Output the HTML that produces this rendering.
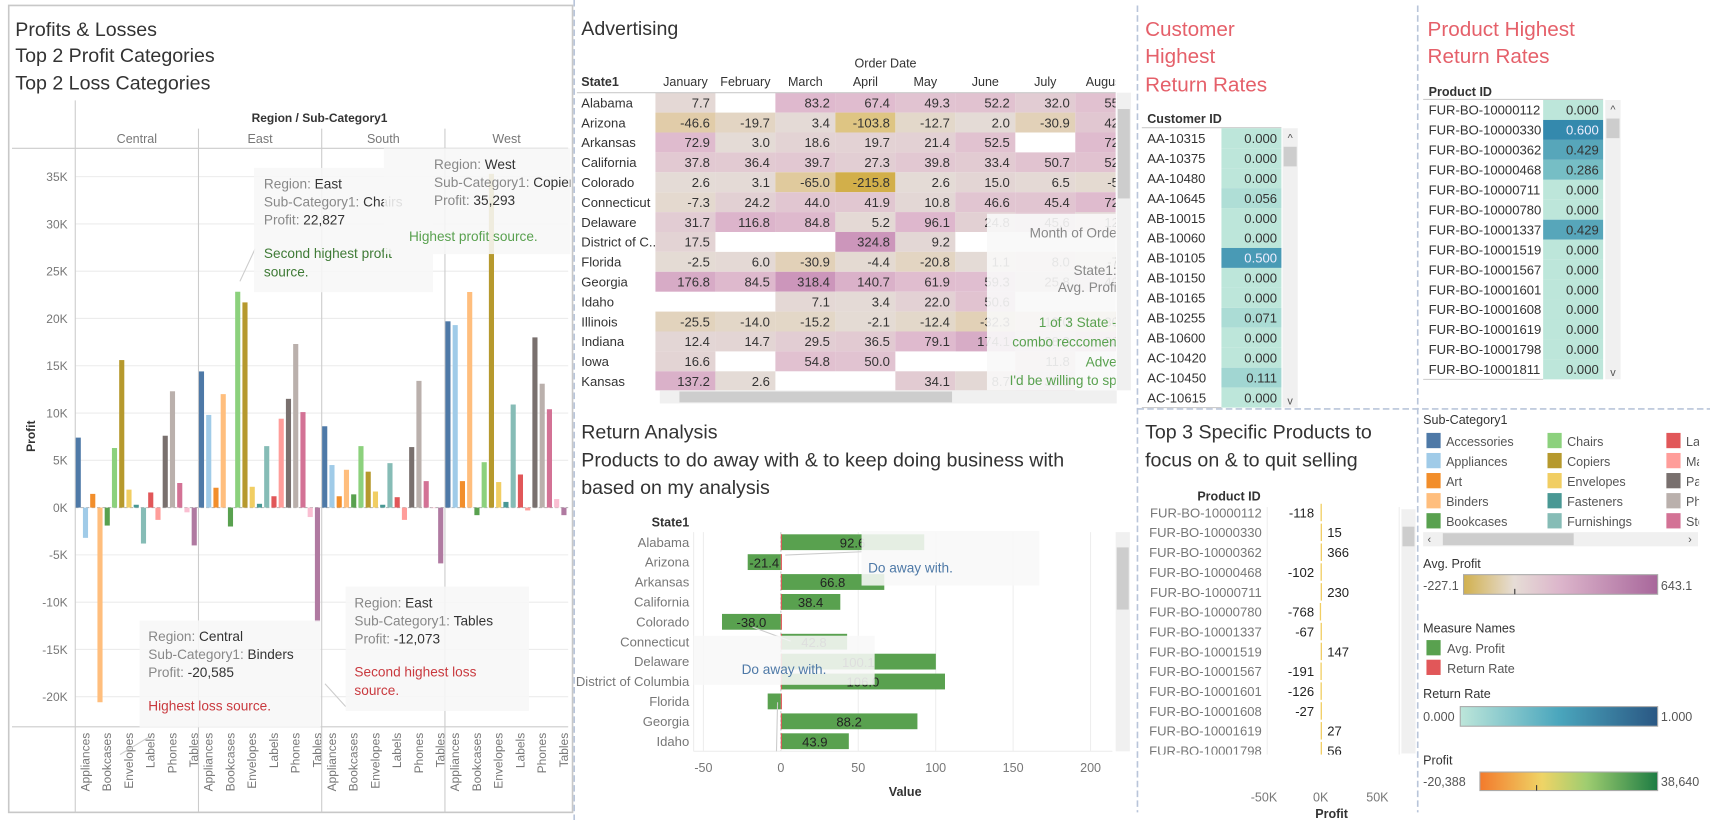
<!DOCTYPE html>
<html><head><meta charset="utf-8">
<style>
html,body{margin:0;padding:0;background:#fff;overflow:hidden;}
svg{display:block;font-family:"Liberation Sans",sans-serif;}
</style></head>
<body>
<svg id="dash" xmlns="http://www.w3.org/2000/svg" width="1710" height="820" viewBox="0 0 1568 752" preserveAspectRatio="none">
<defs>
 <clipPath id="heatClip"><rect x="527" y="40" width="496" height="318"/></clipPath>
 <clipPath id="legClip"><rect x="1300" y="380" width="258" height="120"/></clipPath>
 <clipPath id="leftClip"><rect x="9" y="5" width="514" height="740"/></clipPath>
 <linearGradient id="gAvg" x1="0" x2="1"><stop offset="0" stop-color="#d1b04d"/><stop offset="0.26" stop-color="#e6ddd6"/><stop offset="0.5" stop-color="#dcb5cb"/><stop offset="1" stop-color="#a8679b"/></linearGradient>
 <linearGradient id="gRet" x1="0" x2="1"><stop offset="0" stop-color="#bde6da"/><stop offset="0.5" stop-color="#4aa6bd"/><stop offset="1" stop-color="#2a5783"/></linearGradient>
 <linearGradient id="gProf" x1="0" x2="1"><stop offset="0" stop-color="#f37a2c"/><stop offset="0.35" stop-color="#efd466"/><stop offset="0.6" stop-color="#9fcd70"/><stop offset="1" stop-color="#1d7c43"/></linearGradient>
</defs>

<rect x="8" y="5" width="517" height="740" fill="none" stroke="#c8c8c8" stroke-width="1.5"/>
<line x1="526.5" y1="0" x2="526.5" y2="752" stroke="#b9c5da" stroke-width="1.5" stroke-dasharray="6,3"/>
<line x1="1043" y1="5" x2="1043" y2="745" stroke="#b9c5da" stroke-width="1.5" stroke-dasharray="6,3"/>
<line x1="1300" y1="5" x2="1300" y2="745" stroke="#b9c5da" stroke-width="1.5" stroke-dasharray="6,3"/>
<line x1="1043" y1="375" x2="1568" y2="375" stroke="#b9c5da" stroke-width="1.5" stroke-dasharray="6,3"/>

<g font-size="18" fill="#333">
 <text x="14" y="33">Profits &amp; Losses</text>
 <text x="14" y="57">Top 2 Profit Categories</text>
 <text x="14" y="82">Top 2 Loss Categories</text>
</g>
<g id="barChart" clip-path="url(#leftClip)"></g>

<text x="533" y="32" font-size="18" fill="#333">Advertising</text>
<g id="heat"></g>

<g font-size="18" fill="#333">
 <text x="533" y="402">Return Analysis</text>
 <text x="533" y="428">Products to do away with &amp; to keep doing business with</text>
 <text x="533" y="453">based on my analysis</text>
</g>
<g id="ra"></g>

<g font-size="19" fill="#e5606a">
 <text x="1050" y="33">Customer</text>
 <text x="1050" y="58">Highest</text>
 <text x="1050" y="84">Return Rates</text>
</g>
<g id="cust"></g>

<g font-size="19" fill="#e5606a">
 <text x="1309" y="33">Product Highest</text>
 <text x="1309" y="58">Return Rates</text>
</g>
<g id="prod"></g>

<g font-size="18" fill="#333">
 <text x="1050" y="402">Top 3 Specific Products to</text>
 <text x="1050" y="428">focus on &amp; to quit selling</text>
</g>
<g id="top3"></g>

<g id="legend">
 <text x="1305" y="389" font-size="11.5" fill="#333">Sub-Category1</text>
 <g id="subLeg" clip-path="url(#legClip)"></g>
 <rect x="1305" y="488" width="252" height="13" fill="#f0f0f0"/>
 <rect x="1323" y="489" width="120" height="11" fill="#cdcdcd"/>
 <text x="1309" y="498" font-size="10" fill="#555">‹</text>
 <text x="1548" y="498" font-size="10" fill="#555">›</text>

 <text x="1305" y="521" font-size="11.5" fill="#333">Avg. Profit</text>
 <rect x="1342" y="527" width="178" height="18" fill="url(#gAvg)" stroke="#aaa"/>
 <line x1="1389" y1="540" x2="1389" y2="545" stroke="#333"/>
 <text x="1305" y="541" font-size="11.5" fill="#555">-227.1</text>
 <text x="1523" y="541" font-size="11.5" fill="#555">643.1</text>

 <text x="1305" y="580" font-size="11.5" fill="#333">Measure Names</text>
 <rect x="1308" y="587" width="13" height="14" fill="#59a14f"/>
 <text x="1327" y="599" font-size="11.5" fill="#555">Avg. Profit</text>
 <rect x="1308" y="605" width="13" height="14" fill="#e15759"/>
 <text x="1327" y="617" font-size="11.5" fill="#555">Return Rate</text>

 <text x="1305" y="640" font-size="11.5" fill="#333">Return Rate</text>
 <rect x="1339" y="648" width="181" height="18" fill="url(#gRet)" stroke="#aaa"/>
 <text x="1305" y="661" font-size="11.5" fill="#555">0.000</text>
 <text x="1523" y="661" font-size="11.5" fill="#555">1.000</text>

 <text x="1305" y="701" font-size="11.5" fill="#333">Profit</text>
 <rect x="1357" y="708" width="163" height="17" fill="url(#gProf)" stroke="#aaa"/>
 <line x1="1409" y1="720" x2="1409" y2="725" stroke="#333"/>
 <text x="1305" y="721" font-size="11.5" fill="#555">-20,388</text>
 <text x="1523" y="721" font-size="11.5" fill="#555">38,640</text>
</g>
</svg>

<script>
// ---------- data ----------
const regions = ['Central','East','South','West'];
const subcats = ['Accessories','Appliances','Art','Binders','Bookcases','Chairs','Copiers','Envelopes','Fasteners','Furnishings','Labels','Machines','Paper','Phones','Storage','Supplies','Tables'];
const subColors = ['#4e79a7','#a0cbe8','#f28e2b','#ffbe7d','#59a14f','#8cd17d','#b6992d','#f1ce63','#499894','#86bcb6','#e15759','#ff9d9a','#79706e','#bab0ac','#d37295','#fabfd2','#b07aa1'];
const profitCentral = [7.4,-3.2,1.45,-20.585,-1.9,6.3,15.6,1.9,0.3,-3.8,1.6,-1.3,7.6,12.3,2.6,-0.5,-4.0];
const profitEast = [14.4,9.8,2.1,12.0,-2.0,22.827,21.7,2.2,0.4,6.5,1.2,9.4,11.5,17.3,10.1,-1.0,-12.073];
const profitSouth = [8.6,4.5,1.2,4.0,1.4,6.5,3.8,1.7,0.3,4.7,1.1,-1.3,6.4,13.4,2.8,-0.05,-5.9];
const profitWest = [19.7,19.3,2.8,22.8,-0.8,4.8,35.293,2.7,0.6,10.9,3.5,-0.3,18.0,13.1,10.4,0.9,-0.8];
const profitTicks = [-20,-15,-10,-5,0,5,10,15,20,25,30,35];

const heatStates = ['Alabama','Arizona','Arkansas','California','Colorado','Connecticut','Delaware','District of C..','Florida','Georgia','Idaho','Illinois','Indiana','Iowa','Kansas'];
const heatMonths = ['January','February','March','April','May','June','July','August'];
const heatValues = [
 [7.7,null,83.2,67.4,49.3,52.2,32.0,55.0],
 [-46.6,-19.7,3.4,-103.8,-12.7,2.0,-30.9,42.0],
 [72.9,3.0,18.6,19.7,21.4,52.5,null,72.0],
 [37.8,36.4,39.7,27.3,39.8,33.4,50.7,52.0],
 [2.6,3.1,-65.0,-215.8,2.6,15.0,6.5,-5.0],
 [-7.3,24.2,44.0,41.9,10.8,46.6,45.4,72.0],
 [31.7,116.8,84.8,5.2,96.1,24.8,45.6,12.0],
 [17.5,null,null,324.8,9.2,null,null,null],
 [-2.5,6.0,-30.9,-4.4,-20.8,1.1,8.0,-7.0],
 [176.8,84.5,318.4,140.7,61.9,59.3,25.8,40.0],
 [null,null,7.1,3.4,22.0,50.6,null,null],
 [-25.5,-14.0,-15.2,-2.1,-12.4,-32.3,-18.0,-30.0],
 [12.4,14.7,29.5,36.5,79.1,174.1,38.0,90.0],
 [16.6,null,54.8,50.0,null,null,11.8,null],
 [137.2,2.6,null,null,34.1,8.7,30.0,null]
];

const raStates = ['Alabama','Arizona','Arkansas','California','Colorado','Connecticut','Delaware','District of Columbia','Florida','Georgia','Idaho'];
const raAvgProfit = [92.6,-21.4,66.8,38.4,-38.0,42.8,100.1,106.0,-8.5,88.2,43.9];
const raReturnRate = [0.1,0.6,0.2,0.5,0.7,0.1,0.2,0.1,0.7,0.1,0.1];
const raTicks = [-50,0,50,100,150,200];

const custIds = ['AA-10315','AA-10375','AA-10480','AA-10645','AB-10015','AB-10060','AB-10105','AB-10150','AB-10165','AB-10255','AB-10600','AC-10420','AC-10450','AC-10615'];
const custRates = [0,0,0,0.056,0,0,0.5,0,0,0.071,0,0,0.111,0];
const prodIds = ['FUR-BO-10000112','FUR-BO-10000330','FUR-BO-10000362','FUR-BO-10000468','FUR-BO-10000711','FUR-BO-10000780','FUR-BO-10001337','FUR-BO-10001519','FUR-BO-10001567','FUR-BO-10001601','FUR-BO-10001608','FUR-BO-10001619','FUR-BO-10001798','FUR-BO-10001811'];
const prodRates = [0,0.6,0.429,0.286,0,0,0.429,0,0,0,0,0,0,0];
const topIds = ['FUR-BO-10000112','FUR-BO-10000330','FUR-BO-10000362','FUR-BO-10000468','FUR-BO-10000711','FUR-BO-10000780','FUR-BO-10001337','FUR-BO-10001519','FUR-BO-10001567','FUR-BO-10001601','FUR-BO-10001608','FUR-BO-10001619','FUR-BO-10001798'];
const topProfit = [-118,15,366,-102,230,-768,-67,147,-191,-126,-27,27,56];
const topTicks = [-50000,0,50000];

// ---------- helpers ----------
const NS='http://www.w3.org/2000/svg';
function mk(tag, attrs, parent, txt){
 const e=document.createElementNS(NS,tag);
 for(const k in attrs) e.setAttribute(k,attrs[k]);
 if(txt!==undefined) e.textContent=txt;
 parent.appendChild(e); return e;
}
function hex(c){return [parseInt(c.slice(1,3),16),parseInt(c.slice(3,5),16),parseInt(c.slice(5,7),16)];}
function mix(a,b,t){const A=hex(a),B=hex(b);return 'rgb('+A.map((v,i)=>Math.round(v+(B[i]-v)*t)).join(',')+')';}
function ramp(stops,t){t=Math.max(0,Math.min(1,t));for(let i=1;i<stops.length;i++){if(t<=stops[i][0]){const s=stops[i-1],e=stops[i];return mix(s[1],e[1],(t-s[0])/(e[0]-s[0]));}}return stops[stops.length-1][1];}

// ---------- profit bar chart ----------
const bc=document.getElementById('barChart');
const regLeft=69, regW=113, slotW=regW/17;
const yZero=465.5, pxPerK=8.672;
function yK(v){return yZero - v*pxPerK;}
function xBar(r,i){return regLeft + r*regW + i*slotW + 0.4;}
const allProfit=[profitCentral,profitEast,profitSouth,profitWest];

const hdr=mk('text',{x:293,y:112,'font-size':11,'font-weight':'bold','text-anchor':'middle',fill:'#333'},bc,'Region / Sub-Category1');


profitTicks.forEach(t=>{
 const g=mk('line',{x1:regLeft,x2:521,y1:yK(t),y2:yK(t),stroke:t===0?'#bbb':'#ececec','stroke-dasharray':t===0?'3,2':'none'},bc);
 
 
 const tl=mk('text',{x:62,y:yK(t)+4,'font-size':11,'text-anchor':'end',fill:'#777'},bc,t+'K');
 
 
});
mk('line',{x1:11,x2:521,y1:136,y2:136,stroke:'#ccc'},bc);
mk('line',{x1:11,x2:521,y1:666.5,y2:666.5,stroke:'#ccc'},bc);
mk('line',{x1:69,x2:69,y1:92,y2:745,stroke:'#ccc'},bc);
regions.forEach((r,ri)=>{
 if(ri>0) mk('line',{x1:regLeft+ri*regW,x2:regLeft+ri*regW,y1:118,y2:745,stroke:'#ccc'},bc);
 const rl=mk('text',{x:regLeft+ri*regW+regW/2,y:131,'font-size':11.5,'text-anchor':'middle',fill:'#777'},bc,r);
 
 
 allProfit[ri].forEach((v,i)=>{
  const y0=yK(Math.max(v,0)), h=Math.abs(yK(v)-yZero);
  const b=mk('rect',{x:xBar(ri,i),y:y0,width:4.7,height:Math.max(h,0.5),fill:subColors[i]},bc);
  
  
  if(i%3===1){
   const xl=xBar(ri,i)+6;
   const lb=mk('text',{x:xl,y:672,'font-size':11,'text-anchor':'end',fill:'#777',transform:'rotate(-90 '+xl+' 672)'},bc,subcats[i]);
   
   
  }
 });
});
const yt=mk('text',{x:32,y:400,'font-size':11,'font-weight':'bold','text-anchor':'middle',fill:'#333',transform:'rotate(-90 32 400)'},bc,'Profit');



function tip(parent,name,x,y,w,h,lines,note,noteColor,tx){
 const g=mk('g',{},parent);
 
 
 mk('rect',{x:x,y:y,width:w,height:h,fill:'rgba(247,247,247,0.88)'},g);
 lines.forEach((l,i)=>{
  const t=mk('text',{x:tx,y:y+19+i*16.5,'font-size':12.5,fill:'#888'},g,l[0]);
  mk('tspan',{fill:'#333'},t,l[1]);
 });
 note.forEach((n,i)=>{mk('text',{x:tx,y:y+19+3*16.5+14+i*17,'font-size':12.5,fill:noteColor},g,n);});
}
mk('line',{x1:234,y1:228,x2:220,y2:258,stroke:'#ccc'},bc);
tip(bc,'annotation-east-chairs',233,154,164,114,[['Region: ','East'],['Sub-Category1: ','Chairs'],['Profit: ','22,827']],['Second highest profit','source.'],'#3e7a35',242);
tip(bc,'annotation-west-copiers',352,136,175,97,[['Region: ','West'],['Sub-Category1: ','Copiers'],['Profit: ','35,293']],[],'#59a14f',398);
mk('text',{x:375,y:221,'font-size':12.5,fill:'#59a14f'},bc,'Highest profit source.');
mk('line',{x1:110,y1:692,x2:138,y2:675,stroke:'#ccc'},bc);
tip(bc,'annotation-central-binders',128,569,166,98,[['Region: ','Central'],['Sub-Category1: ','Binders'],['Profit: ','-20,585']],['Highest loss source.'],'#c9393e',136);
mk('line',{x1:298,y1:627,x2:317,y2:648,stroke:'#ccc'},bc);
tip(bc,'annotation-east-tables',317,538,168,114,[['Region: ','East'],['Sub-Category1: ','Tables'],['Profit: ','-12,073']],['Second highest loss','source.'],'#c9393e',325);

// ---------- heatmap ----------
const hm=document.getElementById('heat');
const hx0=601, cw=55, hy0=85, rh=18.25;
function hxCol(c){return hx0+c*cw;}
function hyRow(r){return hy0+r*rh;}
function heatColor(v){
 if(v>=0) return ramp([[0,'#e4dcd6'],[0.1,'#e0bccf'],[0.5,'#cc96bb'],[1,'#a8679b']],v/643.1);
 return ramp([[0,'#e4dcd6'],[0.2,'#e1ccaa'],[0.5,'#dec47c'],[1,'#d1ad45']],-v/227.1);
}
const hclip=mk('g',{'clip-path':'url(#heatClip)'},hm);
mk('text',{x:812,y:62,'font-size':11.5,'text-anchor':'middle',fill:'#333'},hm,'Order Date');
mk('text',{x:533,y:79,'font-size':11.5,'font-weight':'bold',fill:'#333'},hm,'State1');
heatMonths.forEach((m,c)=>{
 const t=mk('text',{x:hxCol(c)+cw/2,y:79,'font-size':11.5,'text-anchor':'middle',fill:'#333'},hclip,m);
 
 
});
mk('line',{x1:529,x2:1023,y1:hy0,y2:hy0,stroke:'#ccc'},hm);
heatStates.forEach((s,r)=>{
 const t=mk('text',{x:533,y:hyRow(r)+13.5,'font-size':12,fill:'#333'},hm,s);
 
 
 heatValues[r].forEach((v,c)=>{
  if(v===null) return;
  const cell=mk('rect',{x:hxCol(c),y:hyRow(r),width:cw,height:rh,fill:heatColor(v)},hclip);
  
  
  mk('text',{x:hxCol(c)+cw-5,y:hyRow(r)+13.5,'font-size':12,'text-anchor':'end',fill:'#333'},hclip,v.toFixed(1));
 });
});
const ht=mk('g',{'clip-path':'url(#heatClip)'},hm);


mk('rect',{x:905,y:196,width:120,height:162,fill:'rgba(248,248,248,0.9)'},ht);
[['Month of Orde',218,'#888'],['State1:',252,'#888'],['Avg. Profi',268,'#888'],['1 of 3 State -',300,'#59a14f'],['combo reccomen',318,'#59a14f'],['Adve',336,'#59a14f'],["I'd be willing to sp",353,'#59a14f']].forEach(a=>{
 mk('text',{x:1024,y:a[1],'font-size':12.5,'text-anchor':'end',fill:a[2]},ht,a[0]);
});
const vs=mk('rect',{x:1024,y:85,width:13,height:273,fill:'#f0f0f0'},hm);


mk('rect',{x:1025,y:100,width:11,height:82,fill:'#cdcdcd'},hm);
const hs=mk('rect',{x:605,y:358,width:419,height:12,fill:'#f0f0f0'},hm);


mk('rect',{x:623,y:359,width:250,height:10,fill:'#cdcdcd'},hm);

// ---------- return analysis ----------
const ra=document.getElementById('ra');
const raZero=716, raPx=1.42, raY0=488, raRh=18.25;
function xRA(v){return raZero+v*raPx;}
function yRA(i){return raY0+i*raRh;}
mk('text',{x:632,y:483,'font-size':11.5,'font-weight':'bold','text-anchor':'end',fill:'#333'},ra,'State1');
raTicks.forEach(t=>{
 mk('line',{x1:xRA(t),x2:xRA(t),y1:488,y2:689,stroke:t===0?'#ccc':'#eee','stroke-dasharray':t===0?'2,2':'none'},ra);
 const tl=mk('text',{x:xRA(t),y:708,'font-size':11.5,'text-anchor':'middle',fill:'#777'},ra,String(t));
 
 
});
mk('line',{x1:636,x2:1020,y1:689,y2:689,stroke:'#eee'},ra);
mk('line',{x1:636,x2:636,y1:488,y2:689,stroke:'#eee'},ra);
const vt=mk('text',{x:830,y:730,'font-size':11.5,'font-weight':'bold','text-anchor':'middle',fill:'#333'},ra,'Value');


raStates.forEach((s,i)=>{
 const t=mk('text',{x:632,y:yRA(i)+13.5,'font-size':12,'text-anchor':'end',fill:'#777'},ra,s);
 
 
 const v=raAvgProfit[i];
 const b=mk('rect',{x:Math.min(xRA(v),raZero),y:yRA(i)+2,width:Math.abs(xRA(v)-raZero),height:14.5,fill:'#59a14f'},ra);
 
 
 const rr=raReturnRate[i];
 const rb=mk('rect',{x:raZero,y:yRA(i)+2,width:Math.max(1,rr*raPx),height:14.5,fill:'#e15759'},ra);
 
 
 if(Math.abs(v)>=10) mk('text',{x:(raZero+xRA(v))/2,y:yRA(i)+14,'font-size':12,'text-anchor':'middle',fill:'#222'},ra,v.toFixed(1));
});
function raTip(name,x,y,w,h,tx,ty){
 const g=mk('g',{},ra);
 
 
 mk('rect',{x:x,y:y,width:w,height:h,fill:'rgba(248,248,248,0.88)'},g);
 mk('text',{x:tx,y:ty,'font-size':12.5,fill:'#4e79a7'},g,'Do away with.');
}
mk('line',{x1:720,y1:509,x2:790,y2:506,stroke:'#ccc'},ra);
raTip('ra-annotation-1',790,487,163,50,796,525);
mk('line',{x1:690,y1:575,x2:725,y2:588,stroke:'#ccc'},ra);
mk('line',{x1:713,y1:644,x2:712,y2:689,stroke:'#ccc'},ra);
raTip('ra-annotation-2',636,583,166,45,680,618);
mk('rect',{x:1023,y:488,width:13,height:201,fill:'#f0f0f0'},ra);
mk('rect',{x:1024,y:502,width:11,height:57,fill:'#cdcdcd'},ra);

// ---------- return rate tables ----------
function rateColor(v){return ramp([[0,'#bde6da'],[0.3,'#72bcc4'],[0.6,'#3489ad'],[1,'#2a5783']],v);}
function table(parentId,ids,rates,x0,cx,cw2,y0,hdrText,hdrY,sbx){
 const p=document.getElementById(parentId);
 mk('text',{x:x0,y:hdrY,'font-size':11.5,'font-weight':'bold',fill:'#333'},p,hdrText);
 mk('line',{x1:x0-5,x2:cx+cw2,y1:y0-0.5,y2:y0-0.5,stroke:'#ccc'},p);
 ids.forEach((id,i)=>{
  const y=y0+i*18.3;
  const t=mk('text',{x:x0,y:y+13.5,'font-size':12,fill:'#333'},p,id);
  
  
  const c=mk('rect',{x:cx,y:y,width:cw2,height:18.3,fill:rateColor(rates[i])},p);
  
  
  mk('text',{x:cx+cw2-4,y:y+13.5,'font-size':12,'text-anchor':'end',fill:rates[i]>=0.5?'#eef':'#333'},p,rates[i].toFixed(3));
 });
 const yEnd=y0+ids.length*18.3;
 mk('line',{x1:x0-5,x2:cx,y1:yEnd,y2:yEnd,stroke:'#ccc'},p);
 const sb=mk('rect',{x:sbx,y:y0,width:14,height:yEnd-y0,fill:'#f0f0f0'},p);
 
 
 mk('rect',{x:sbx+1,y:y0+17,width:12,height:18,fill:'#cdcdcd'},p);
 mk('text',{x:sbx+7,y:y0+12,'font-size':10,'text-anchor':'middle',fill:'#555'},p,'^');
 mk('text',{x:sbx+7,y:yEnd-3,'font-size':10,'text-anchor':'middle',fill:'#555'},p,'v');
}
table('cust',custIds,custRates,1052,1120,55,117.6,'Customer ID',113,1176);
table('prod',prodIds,prodRates,1310,1415,55,91.7,'Product ID',88,1472);

// ---------- top 3 products ----------
const tp=document.getElementById('top3');
const tpZero=1211, tpPxPerUnit=52/50000, tpY0=461, tpRh=18.2;
function xTP(v){return tpZero+v*tpPxPerUnit;}
function yTP(i){return tpY0+i*tpRh;}
mk('text',{x:1156,y:459,'font-size':11.5,'font-weight':'bold','text-anchor':'end',fill:'#333'},tp,'Product ID');
mk('line',{x1:1162,x2:1162,y1:465,y2:716,stroke:'#eee'},tp);
mk('line',{x1:1283,x2:1283,y1:465,y2:716,stroke:'#eee'},tp);
topIds.forEach((id,i)=>{
 const y=yTP(i);
 if(y>700) return;
 const t=mk('text',{x:1157,y:y+13.5,'font-size':12,'text-anchor':'end',fill:'#777'},tp,id);
 
 
 const v=topProfit[i];
 const b=mk('rect',{x:Math.min(xTP(v),tpZero),y:y+1,width:Math.max(1.2,Math.abs(xTP(v)-tpZero)),height:16,fill:'#f1ce63'},tp);
 
 
 mk('text',{x:v<0?tpZero-6:tpZero+6,y:y+13.5,'font-size':12,'text-anchor':v<0?'end':'start',fill:'#222'},tp,String(v));
});
mk('rect',{x:1045,y:692,width:240,height:25,fill:'#fff'},tp);
topTicks.forEach(t=>{
 const tl=mk('text',{x:xTP(t),y:735,'font-size':11.5,'text-anchor':'middle',fill:'#777'},tp,(t/1000)+'K');
 
 
});
const pt=mk('text',{x:1221,y:750,'font-size':11.5,'font-weight':'bold','text-anchor':'middle',fill:'#333'},tp,'Profit');


mk('rect',{x:1285,y:467,width:13,height:224,fill:'#f0f0f0'},tp);
mk('rect',{x:1286,y:483,width:11,height:18,fill:'#cdcdcd'},tp);

// ---------- sub-category legend ----------
const sl=document.getElementById('subLeg');
const legColX=[1308,1419,1528];
subcats.slice(0,15).forEach((s,i)=>{
 const col=Math.floor(i/5), row=i%5;
 const y=397+row*18.4;
 const sw=mk('rect',{x:legColX[col],y:y,width:13,height:14,fill:subColors[i]},sl);
 
 
 mk('text',{x:legColX[col]+18,y:y+12,'font-size':11.5,fill:'#555'},sl,s);
});
</script>
</body></html>
